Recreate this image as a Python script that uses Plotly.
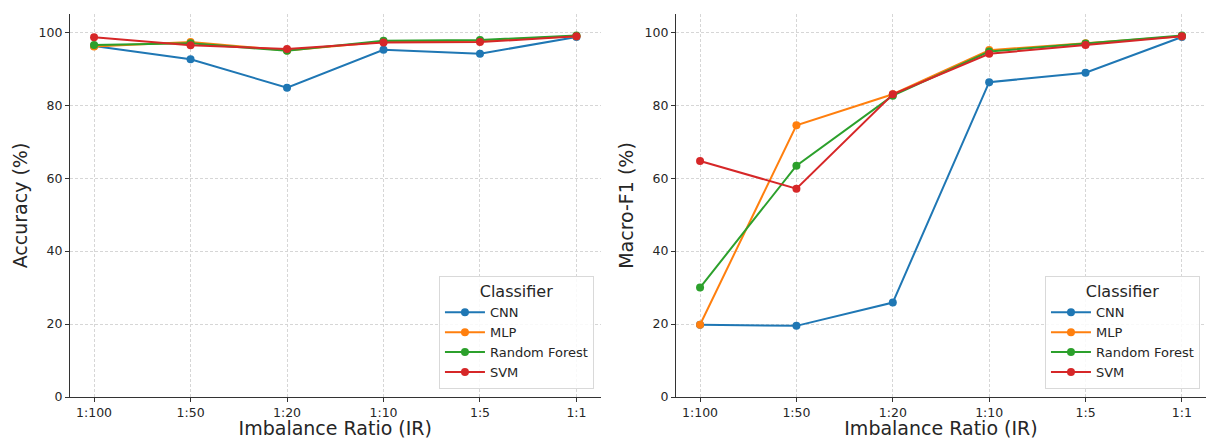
import plotly.graph_objects as go

ratios = ["1:100", "1:50", "1:20", "1:10", "1:5", "1:1"]
classifiers = ["CNN", "MLP", "Random Forest", "SVM"]
colors = ["#1f77b4", "#ff7f0e", "#2ca02c", "#d62728"]

acc_cnn = [96.2, 92.6, 84.8, 95.2, 94.1, 98.7]
acc_mlp = [96.1, 97.3, 95.0, 97.4, 97.7, 98.9]
acc_rf = [96.5, 97.0, 94.9, 97.7, 97.9, 99.1]
acc_svm = [98.6, 96.4, 95.4, 97.2, 97.3, 98.9]

f1_cnn = [19.8, 19.5, 25.9, 86.3, 88.9, 98.7]
f1_mlp = [19.8, 74.5, 83.0, 95.1, 97.0, 98.9]
f1_rf = [30.0, 63.4, 82.6, 94.7, 96.9, 99.1]
f1_svm = [64.7, 57.1, 83.0, 94.1, 96.5, 98.9]

acc = [acc_cnn, acc_mlp, acc_rf, acc_svm]
f1 = [f1_cnn, f1_mlp, f1_rf, f1_svm]

FONT = "DejaVu Sans"
TXT = "#262626"

fig = go.Figure()
for name, col, vals in zip(classifiers, colors, acc):
    fig.add_trace(go.Scatter(x=ratios, y=vals, name=name, mode="lines+markers",
                             line=dict(color=col, width=2), marker=dict(color=col, size=8),
                             xaxis="x", yaxis="y", legend="legend"))
for name, col, vals in zip(classifiers, colors, f1):
    fig.add_trace(go.Scatter(x=ratios, y=vals, name=name, mode="lines+markers",
                             line=dict(color=col, width=2), marker=dict(color=col, size=8),
                             xaxis="x2", yaxis="y2", legend="legend2"))

axis_common = dict(
    showline=True, linecolor="#333333", linewidth=1.2, mirror=False,
    ticks="outside", ticklen=4, tickcolor="#333333", tickwidth=1,
    showgrid=True, gridcolor="#d6d6d6", griddash="3px,2px", gridwidth=0.8,
    zeroline=False, tickfont=dict(family=FONT, size=12.5, color=TXT),
    automargin=False,
)

xcommon = dict(axis_common, type="category", range=[-0.25, 5.25], ticklabelstandoff=0,
               title=dict(text="Imbalance Ratio (IR)", font=dict(family=FONT, size=19, color=TXT), standoff=6))
ycommon = dict(axis_common, range=[0, 105], dtick=20, tick0=0)

legend_common = dict(
    bgcolor="rgba(255,255,255,0.85)", bordercolor="#d9d9d9", borderwidth=1,
    font=dict(family=FONT, size=13, color=TXT),
    title=dict(text="Classifier", font=dict(family=FONT, size=16, color=TXT), side="top center"),
    xanchor="right", yanchor="bottom", y=0.022, tracegroupgap=3, itemwidth=40,
)

fig.update_layout(
    width=1206, height=439,
    margin=dict(l=0, r=0, t=14, b=42),
    paper_bgcolor="white", plot_bgcolor="white",
    font=dict(family=FONT, color=TXT),
    xaxis=dict(xcommon, domain=[0.058, 0.498], anchor="y"),
    yaxis=dict(ycommon, domain=[0, 1], anchor="x",
               title=dict(text="Accuracy (%)", font=dict(family=FONT, size=19, color=TXT), standoff=5)),
    xaxis2=dict(xcommon, domain=[0.5605, 1.0], anchor="y2"),
    yaxis2=dict(ycommon, domain=[0, 1], anchor="x2",
                title=dict(text="Macro-F1 (%)", font=dict(family=FONT, size=19, color=TXT), standoff=5)),
    legend=dict(legend_common, x=0.4925),
    legend2=dict(legend_common, x=0.995),
    showlegend=True,
)

fig.write_html("out.html")
